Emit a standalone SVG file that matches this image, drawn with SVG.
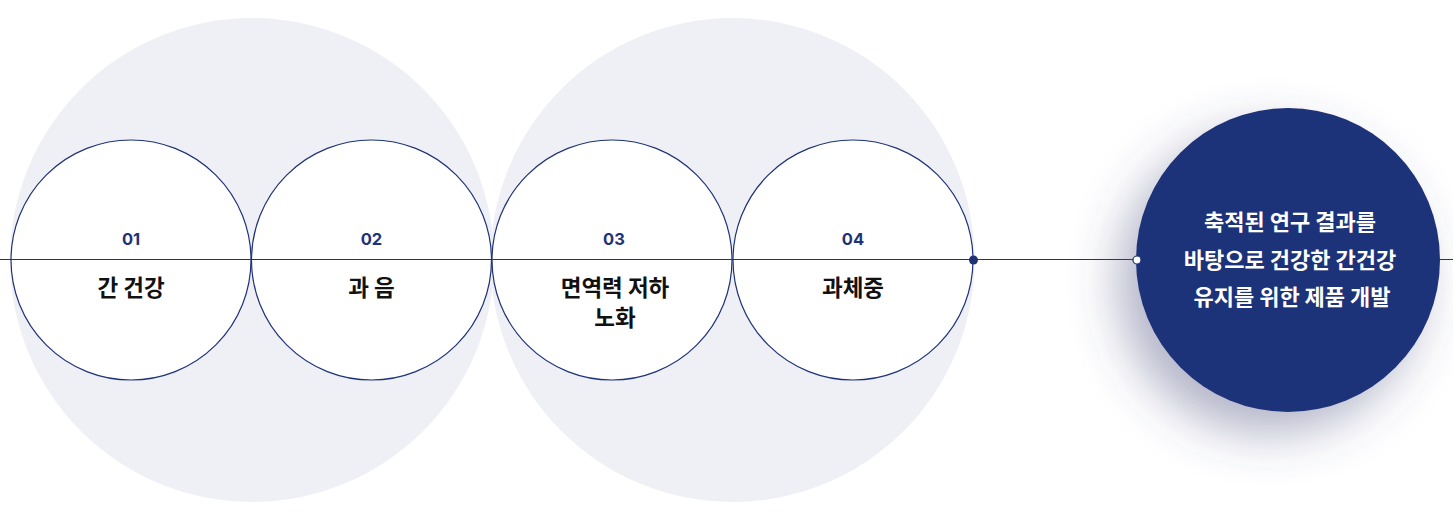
<svg xmlns="http://www.w3.org/2000/svg" width="1453" height="520" viewBox="0 0 1453 520">
<defs>
<style>
.bg{fill:#eef0f6}
.node{fill:#ffffff;stroke:#1f3278;stroke-width:1.2}
.num{font-family:Inter,"Noto Sans",sans-serif;font-weight:700;font-size:16.5px;fill:#1f3278;text-anchor:middle}
.lbl{font-family:"Noto Sans CJK KR",sans-serif;font-weight:700;font-size:22.5px;fill:#111111;text-anchor:middle}
.res{font-family:"Noto Sans CJK KR",sans-serif;font-weight:700;font-size:22px;fill:#ffffff;text-anchor:middle}
</style>
<filter id="glow" x="-50%" y="-50%" width="200%" height="200%">
<feDropShadow dx="-18" dy="22" stdDeviation="24" flood-color="#46507e" flood-opacity="0.42"/>
</filter>
</defs>
<rect width="1453" height="520" fill="#ffffff"/>
<g id="backdrops">
<circle class="bg" cx="252" cy="260" r="242"/>
<circle class="bg" cx="732.5" cy="260" r="242"/>
</g>
<g id="connectors">
<line x1="0" y1="259.5" x2="1453" y2="259.5" stroke="#1f3278" stroke-width="1.2"/>
</g>
<g id="node-01">
<circle class="node" cx="131" cy="260" r="120"/>
<line x1="11" y1="259.5" x2="251" y2="259.5" stroke="#1f3278" stroke-width="1.2"/>
<text class="num" x="131" y="245">01</text>
<text class="lbl" x="131" y="296">간 건강</text>
</g>
<g id="node-02">
<circle class="node" cx="371.5" cy="260" r="120"/>
<line x1="251.5" y1="259.5" x2="491.5" y2="259.5" stroke="#1f3278" stroke-width="1.2"/>
<text class="num" x="371.5" y="245">02</text>
<text class="lbl" x="371.5" y="296">과 음</text>
</g>
<g id="node-03">
<circle class="node" cx="612" cy="260" r="120"/>
<line x1="492" y1="259.5" x2="732" y2="259.5" stroke="#1f3278" stroke-width="1.2"/>
<text class="num" x="614" y="245">03</text>
<text class="lbl" x="615" y="296">면역력 저하</text>
<text class="lbl" x="615" y="326">노화</text>
</g>
<g id="node-04">
<circle class="node" cx="853" cy="260" r="120"/>
<line x1="733" y1="259.5" x2="973" y2="259.5" stroke="#1f3278" stroke-width="1.2"/>
<text class="num" x="853" y="245">04</text>
<text class="lbl" x="853" y="296">과체중</text>
</g>
<g id="dot-start">
<circle cx="973.5" cy="260" r="4.5" fill="#1f3278"/>
</g>
<g id="result">
<circle cx="1288" cy="260" r="152" fill="#1f3279" filter="url(#glow)"/>
<circle cx="1137" cy="260" r="4" fill="#ffffff" stroke="#1f3278" stroke-width="1.2"/>
<text class="res" x="1290" y="230">축적된 연구 결과를</text>
<text class="res" x="1290" y="267.5">바탕으로 건강한 간건강</text>
<text class="res" x="1292" y="305">유지를 위한 제품 개발</text>
</g>
</svg>
